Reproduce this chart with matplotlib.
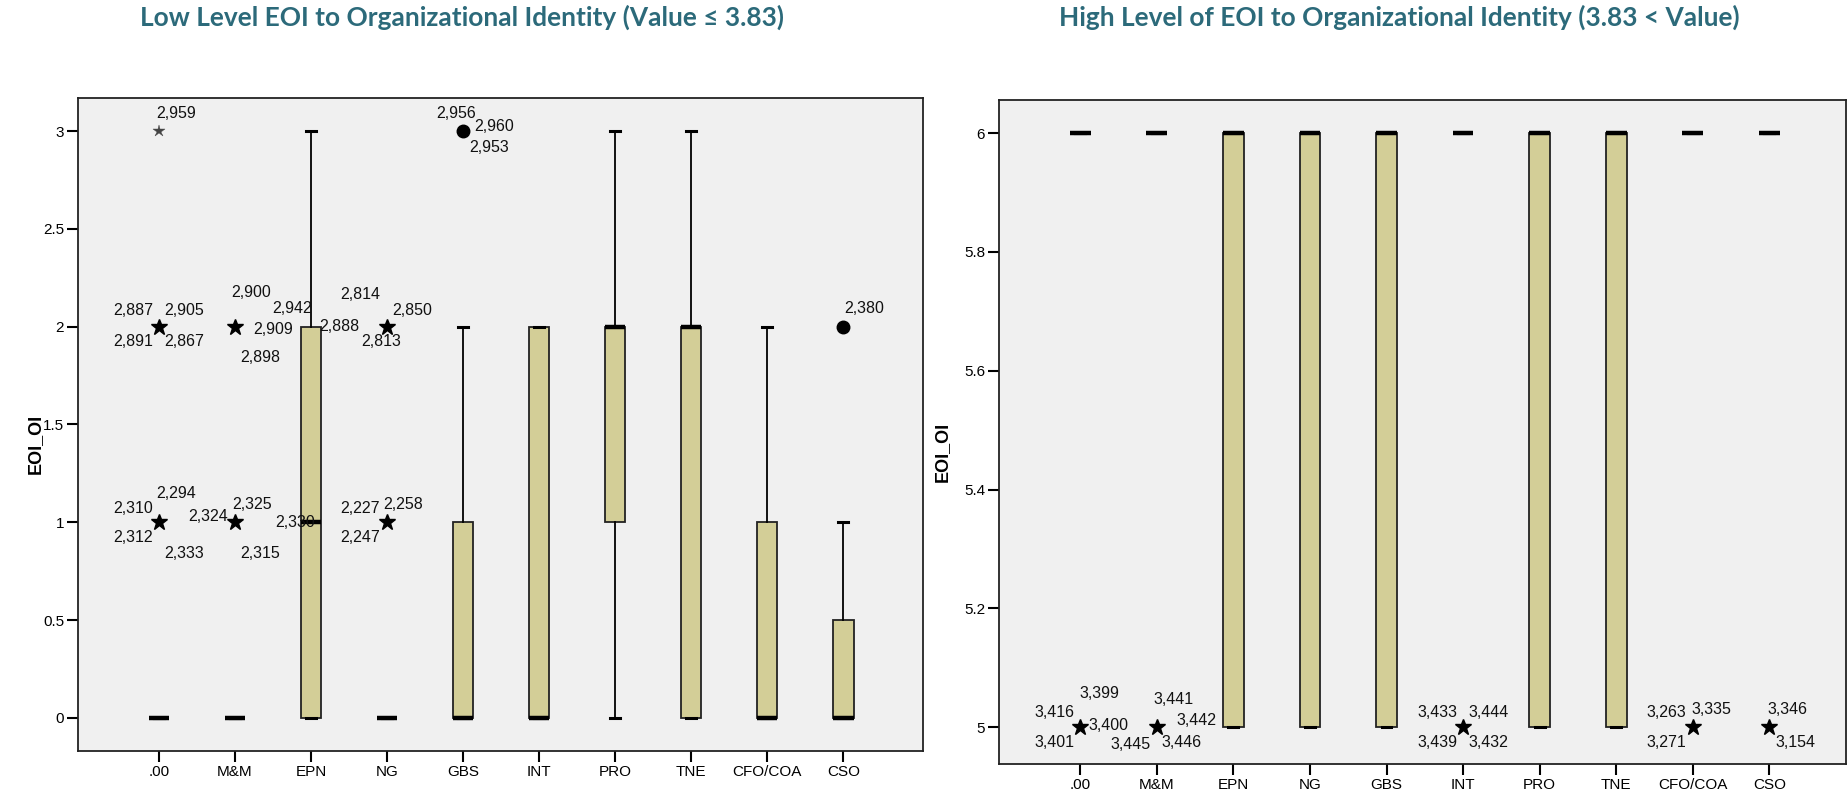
import matplotlib
matplotlib.use("Agg")
import matplotlib.pyplot as plt
from matplotlib import font_manager

# categories on the x axis (same for both panels)
categories = [".00", "M&M", "EPN", "NG", "GBS", "INT", "PRO", "TNE", "CFO/COA", "CSO"]

# low level panel (value <= 3.83): box statistics
low_q1 = [0, 0, 0, 0, 0, 0, 1, 0, 0, 0]
low_med = [0, 0, 1, 0, 0, 0, 2, 2, 0, 0]
low_q3 = [0, 0, 2, 0, 1, 2, 2, 2, 1, 0.5]
low_whislo = [0, 0, 0, 0, 0, 0, 0, 0, 0, 0]
low_whishi = [0, 0, 3, 0, 2, 2, 3, 3, 2, 1]

# low level panel: outliers (star = extreme, circle = outlier) and case ids
low_out_cat = [".00", ".00", ".00", "M&M", "M&M", "NG", "NG", "GBS", "CSO"]
low_out_val = [3, 2, 1, 2, 1, 2, 1, 3, 2]
low_out_kind = ["extreme", "extreme", "extreme", "extreme", "extreme",
                "extreme", "extreme", "outlier", "outlier"]
low_out_ids = [
    ["2,959"],
    ["2,887", "2,905", "2,891", "2,867"],
    ["2,310", "2,294", "2,312", "2,333"],
    ["2,900", "2,942", "2,909", "2,898", "2,888"],
    ["2,324", "2,325", "2,315", "2,330"],
    ["2,814", "2,850", "2,813"],
    ["2,227", "2,258", "2,247"],
    ["2,956", "2,960", "2,953"],
    ["2,380"],
]

# high level panel (3.83 < value): box statistics
high_q1 = [6, 6, 5, 5, 5, 6, 5, 5, 6, 6]
high_med = [6, 6, 6, 6, 6, 6, 6, 6, 6, 6]
high_q3 = [6, 6, 6, 6, 6, 6, 6, 6, 6, 6]
high_whislo = [6, 6, 5, 5, 5, 6, 5, 5, 6, 6]
high_whishi = [6, 6, 6, 6, 6, 6, 6, 6, 6, 6]

high_out_cat = [".00", "M&M", "INT", "CFO/COA", "CSO"]
high_out_val = [5, 5, 5, 5, 5]
high_out_kind = ["extreme"] * 5
high_out_ids = [
    ["3,416", "3,399", "3,400", "3,401"],
    ["3,441", "3,442", "3,445", "3,446"],
    ["3,433", "3,444", "3,439", "3,432"],
    ["3,263", "3,335", "3,271"],
    ["3,346", "3,154"],
]

# label offsets in pixels (layout only)
low_offsets = [
    [(17, 18)],
    [(-26, 16), (25, 16), (-26, -15), (25, -15)],
    [(-26, 14), (17, 29), (-26, -15), (25, -31)],
    [(16, 34), (57, 18), (38, -3), (25, -31), (104, 0)],
    [(-27, 6), (17, 18), (25, -31), (60, 0)],
    [(-27, 32), (25, 16), (-6, -15)],
    [(-27, 14), (16, 18), (-27, -15)],
    [(-7, 18), (31, 5), (26, -16)],
    [(21, 18)],
]
high_offsets = [
    [(-26, 15), (19, 34), (28, 2), (-26, -15)],
    [(17, 28), (40, 7), (-26, -17), (25, -15)],
    [(-26, 15), (25, 15), (-26, -15), (25, -15)],
    [(-26, 15), (19, 18), (-26, -15)],
    [(18, 18), (26, -15)],
]


def pick(names):
    for n in names:
        try:
            font_manager.findfont(font_manager.FontProperties(family=n), fallback_to_default=False)
            return n
        except Exception:
            pass
    return "DejaVu Sans"


text_font = pick(["Liberation Sans", "Arial", "DejaVu Sans"])
title_font = pick(["Lato", "Open Sans", "DejaVu Sans"])

BOX = "#D3CE97"
BG = "#F0F0F0"
TEAL = "#2C6A7A"

fig = plt.figure(figsize=(18.48, 7.93), dpi=100)
ax1 = fig.add_axes([0.0422, 0.053, 0.4573, 0.8234])
ax2 = fig.add_axes([0.5406, 0.0366, 0.4583, 0.8374])


def draw_panel(ax, q1, med, q3, wlo, whi, out_cat, out_val, out_kind, out_ids, offsets):
    stats = []
    for i in range(len(categories)):
        stats.append(dict(q1=q1[i], med=med[i], q3=q3[i], whislo=wlo[i], whishi=whi[i], fliers=[]))
    pos = list(range(len(categories)))
    ax.bxp(stats, positions=pos, widths=0.27, patch_artist=True, showfliers=False,
           boxprops=dict(facecolor=BOX, edgecolor="#222222", linewidth=1.3),
           medianprops=dict(color="black", linewidth=3.2, solid_capstyle="butt"),
           whiskerprops=dict(color="black", linewidth=1.3),
           capprops=dict(color="black", linewidth=2.2),
           capwidths=0.13)
    for c, v, k, ids, offs in zip(out_cat, out_val, out_kind, out_ids, offsets):
        x = categories.index(c)
        if k == "extreme":
            if v == 3 and c == ".00":
                ax.plot(x, v, marker="*", ms=9, color="#444444", mew=0.3, ls="none", zorder=5)
            else:
                ax.plot(x, v, marker="*", ms=12, color="black", ls="none", zorder=5)
        else:
            ax.plot(x, v, marker="o", ms=9, color="black", ls="none", zorder=5)
        for lab, (dx, dy) in zip(ids, offs):
            ax.annotate(lab, (x, v), xytext=(dx, dy), textcoords="offset pixels",
                        ha="center", va="center", fontsize=11.5, family=text_font,
                        color="#111111", zorder=6)
    ax.set_facecolor(BG)
    ax.set_xticks(pos)
    ax.set_xticklabels(categories, fontsize=11, family=text_font)
    for sp in ax.spines.values():
        sp.set_linewidth(1.3)
        sp.set_color("#222222")
    ax.tick_params(axis="both", direction="out", length=8, width=1.5, labelsize=11, pad=2)
    ax.set_ylabel("EOI_OI", fontsize=13, fontweight="bold", family=text_font)


draw_panel(ax1, low_q1, low_med, low_q3, low_whislo, low_whishi,
           low_out_cat, low_out_val, low_out_kind, low_out_ids, low_offsets)
ax1.set_xlim(-1.066, 10.05)
ax1.set_ylim(-0.169, 3.169)
ax1.set_yticks([0, 0.5, 1, 1.5, 2, 2.5, 3])
ax1.set_yticklabels(["0", "0.5", "1", "1.5", "2", "2.5", "3"], family=text_font)
ax1.yaxis.set_label_coords(-0.04, 0.47)

draw_panel(ax2, high_q1, high_med, high_q3, high_whislo, high_whishi,
           high_out_cat, high_out_val, high_out_kind, high_out_ids, high_offsets)
ax2.set_xlim(-1.06, 10.0)
ax2.set_ylim(4.938, 6.056)
ax2.set_yticks([5, 5.2, 5.4, 5.6, 5.8, 6])
ax2.set_yticklabels(["5", "5.2", "5.4", "5.6", "5.8", "6"], family=text_font)
ax2.yaxis.set_label_coords(-0.057, 0.47)

t1 = fig.text(462 / 1848, 0.978, "Low Level EOI to Organizational Identity (Value \u2264 3.83)",
              ha="center", va="center", fontsize=18, fontweight="bold", color=TEAL,
              family=[title_font, "DejaVu Sans"])
t2 = fig.text(1399 / 1848, 0.978, "High Level of EOI to Organizational Identity (3.83 < Value)",
              ha="center", va="center", fontsize=18, fontweight="bold", color=TEAL,
              family=[title_font, "DejaVu Sans"])

# fit the title size so the left title is about 644 px wide like the original
fig.canvas.draw()
w = t1.get_window_extent(fig.canvas.get_renderer()).width
size = 18 * 644 / w
t1.set_fontsize(size)
t2.set_fontsize(size)

fig.savefig("out.png", dpi=100)
